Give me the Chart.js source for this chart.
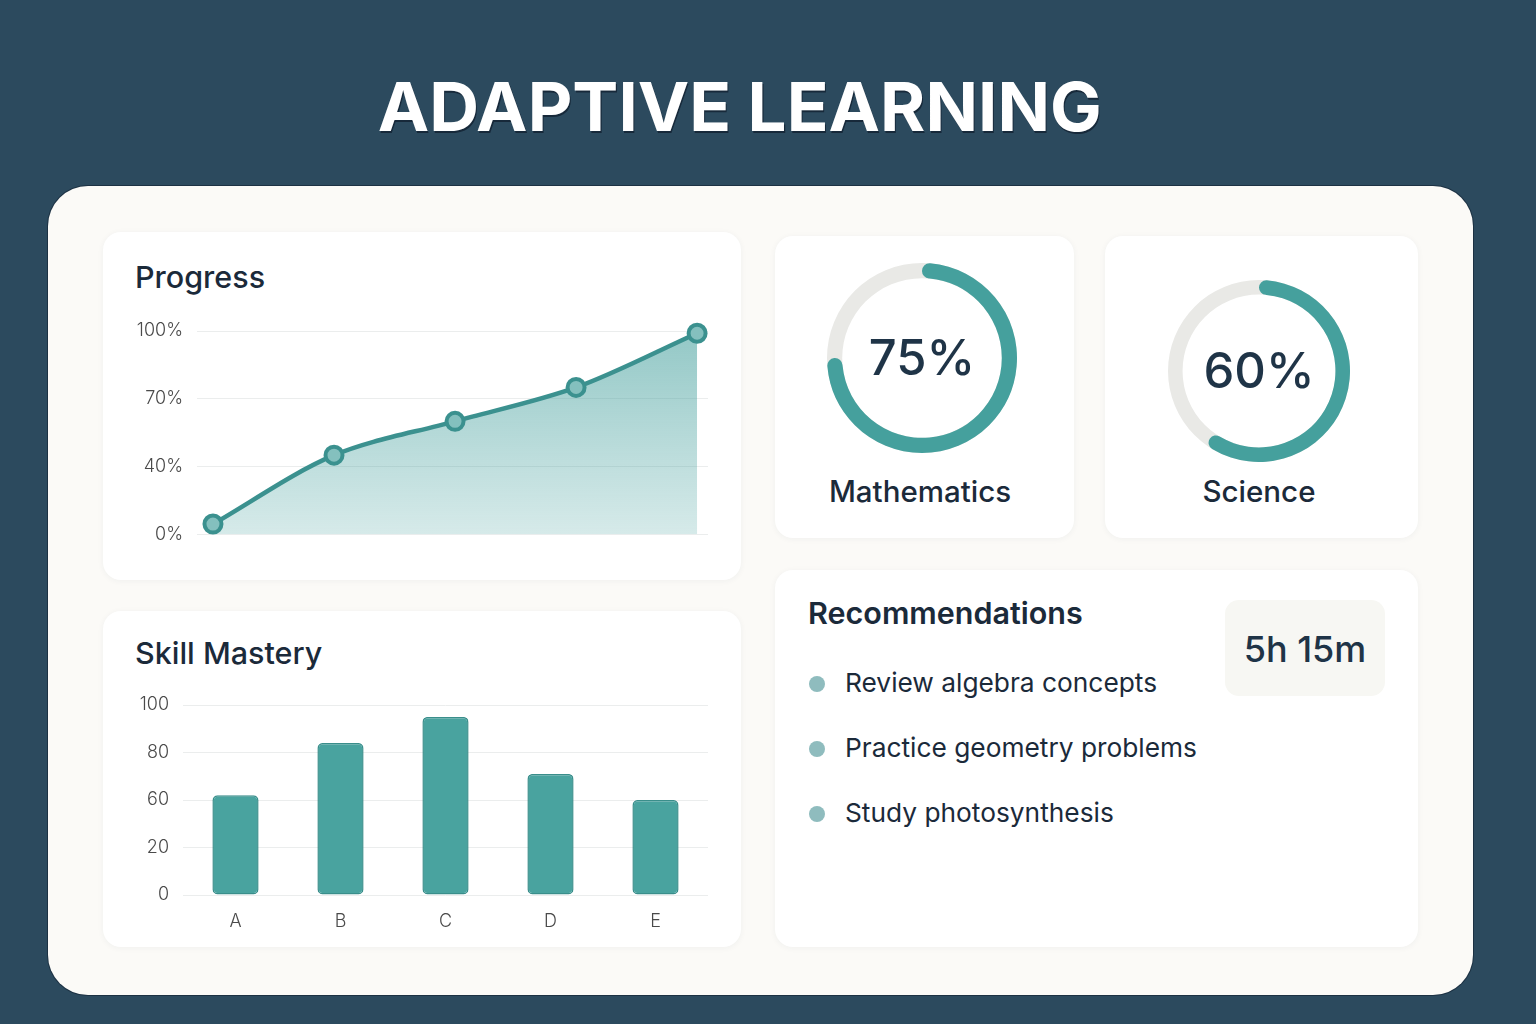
<!DOCTYPE html>
<html>
<head>
<meta charset="utf-8">
<script src="https://cdn.jsdelivr.net/npm/chart.js@4.4.1/dist/chart.umd.min.js"></script>
<style>
  html, body { margin:0; padding:0; }
  body { width:1536px; height:1024px; background:#2c4a5e; position:relative; overflow:hidden; font-family:Inter, "Noto Sans", sans-serif; color:#1d2d3c; }
  #title { position:absolute; left:0; width:1480px; top:65px; text-align:center; font-size:68px; font-weight:700; color:#ffffff; letter-spacing:0px; text-shadow:1px 2px 0 #17293a; white-space:nowrap; }
  #title span { display:inline-block; transform-origin:center; transform:scaleX(1.015); }
  #card { position:absolute; left:48px; top:186px; width:1425px; height:809px; border-radius:40px; background:#fbfaf7; box-shadow:0 0 0 1px #1c3143; }
  .panel { position:absolute; background:#ffffff; border-radius:18px; box-shadow:0 1px 6px rgba(40,60,70,0.05); }
  .ptitle { position:absolute; font-size:30.5px; font-weight:500; color:#1b2a3a; white-space:nowrap; }
  canvas { position:absolute; }
  .center { position:absolute; text-align:center; font-weight:500; color:#1f3447; white-space:nowrap; }
  .subj { position:absolute; text-align:center; font-size:29.5px; font-weight:500; color:#1b2a3a; white-space:nowrap; }
  .rec { position:absolute; left:845px; font-size:26.3px; font-weight:400; color:#1b2a3a; white-space:nowrap; }
  .dot { position:absolute; left:809px; width:16px; height:16px; border-radius:50%; background:#8fbcbe; }
  #timebox { position:absolute; left:1225px; top:600px; width:160px; height:96px; border-radius:14px; background:#f7f7f3; }
  #time { position:absolute; left:1225px; width:160px; top:627px; text-align:center; font-size:36px; font-weight:500; color:#1f3447; white-space:nowrap; }
</style>
</head>
<body>
<div id="title"><span id="titleText">ADAPTIVE LEARNING</span></div>
<div id="card"></div>

<div class="panel" style="left:103px; top:232px; width:638px; height:348px;"></div>
<div class="panel" style="left:103px; top:611px; width:638px; height:336px;"></div>
<div class="panel" style="left:775px; top:236px; width:299px; height:302px;"></div>
<div class="panel" style="left:1105px; top:236px; width:313px; height:302px;"></div>
<div class="panel" style="left:775px; top:570px; width:643px; height:377px;"></div>

<div class="ptitle" style="left:135px; top:258px;">Progress</div>
<div class="ptitle" style="left:135px; top:634px;">Skill Mastery</div>
<div class="ptitle" style="left:808px; top:594px; font-weight:600;">Recommendations</div>

<canvas id="progressChart" width="600" height="259" style="left:120px; top:300px; width:600px; height:259px;"></canvas>
<canvas id="skillChart" width="600" height="255" style="left:120px; top:680px; width:600px; height:255px;"></canvas>
<canvas id="mathChart" width="190" height="190" style="left:827px; top:263px; width:190px; height:190px;"></canvas>
<canvas id="sciChart" width="182" height="182" style="left:1168px; top:280px; width:182px; height:182px;"></canvas>

<div id="mathPct" class="center" style="left:822px; width:200px; top:328px; font-size:49px;"></div>
<div id="sciPct" class="center" style="left:1159px; width:200px; top:341px; font-size:49px;"></div>
<div id="mathName" class="subj" style="left:770px; width:300px; top:473px;"></div>
<div id="sciName" class="subj" style="left:1109px; width:300px; top:473px;"></div>

<div id="recs"></div>
<div id="timebox"></div>
<div id="time"></div>

<script>
// ---------- DATA ----------
const progressSessions = [1, 2, 3, 4, 5];
const progressValues = [6, 45, 60, 75, 99];
const progressTicks = [0, 40, 70, 100];

const skillCategories = ['A', 'B', 'C', 'D', 'E'];
const skillValues = [62, 84, 95, 71, 60];
const skillTicks = [0, 20, 60, 80, 100];

const subjectNames = ['Mathematics', 'Science'];
const subjectScores = [75, 60];

const recommendations = ['Review algebra concepts', 'Practice geometry problems', 'Study photosynthesis'];
const studyTime = '5h 15m';

// ---------- helpers ----------
const TEAL = '#45a09d';
const TEAL_DARK = '#3b918f';

// axes in the reference are evenly spaced between uneven tick values:
// map a value onto that piecewise axis (tick index space)
function toTickSpace(v, ticks) {
  for (let i = 0; i < ticks.length - 1; i++) {
    if (v <= ticks[i + 1]) return i + (v - ticks[i]) / (ticks[i + 1] - ticks[i]);
  }
  return ticks.length - 1;
}

Chart.defaults.font.family = 'Inter, "Noto Sans", sans-serif';
Chart.defaults.animation = false;
Chart.defaults.plugins.legend.display = false;
Chart.defaults.plugins.tooltip.enabled = false;

// text
document.getElementById('mathPct').textContent = subjectScores[0] + '%';
document.getElementById('sciPct').textContent = subjectScores[1] + '%';
document.getElementById('mathName').textContent = subjectNames[0];
document.getElementById('sciName').textContent = subjectNames[1];
document.getElementById('time').textContent = studyTime;
const recBox = document.getElementById('recs');
const recTops = [684, 749, 814];
recommendations.forEach((r, i) => {
  const d = document.createElement('div'); d.className = 'dot'; d.style.top = (recTops[i] - 8) + 'px'; recBox.appendChild(d);
  const t = document.createElement('div'); t.className = 'rec'; t.textContent = r; t.style.top = (recTops[i] - 17) + 'px'; recBox.appendChild(t);
});

// ---------- Progress line ----------
new Chart(document.getElementById('progressChart'), {
  type: 'line',
  data: {
    datasets: [{
      data: progressSessions.map((s, i) => ({ x: s, y: toTickSpace(progressValues[i], progressTicks) })),
      borderColor: TEAL_DARK,
      borderWidth: 4.5,
      tension: 0.32,
      fill: 'origin',
      clip: false,
      backgroundColor: (ctx) => {
        const ca = ctx.chart.chartArea;
        if (!ca) return 'rgba(69,160,157,0.35)';
        const g = ctx.chart.ctx.createLinearGradient(0, ca.top, 0, ca.bottom);
        g.addColorStop(0, 'rgba(69,160,157,0.58)');
        g.addColorStop(1, 'rgba(69,160,157,0.22)');
        return g;
      },
      pointRadius: 8.5,
      pointBorderWidth: 4,
      pointBackgroundColor: '#84c0be',
      pointBorderColor: TEAL_DARK
    }]
  },
  options: {
    responsive: false,
    layout: { autoPadding: false, padding: { top: 31, right: 12, bottom: 0, left: 0 } },
    scales: {
      x: {
        type: 'linear', min: 0.868, max: 5.09,
        afterFit: (s) => { s.height = 15; },
        border: { display: false },
        grid: { display: false },
        ticks: { display: false }
      },
      y: {
        type: 'linear', min: 0, max: progressTicks.length - 1,
        afterFit: (s) => { s.width = 77; },
        border: { display: false },
        grid: { color: '#ebeded', lineWidth: 1, drawTicks: false },
        ticks: { stepSize: 1, padding: 14, color: '#4a4a4a', font: { size: 18, weight: 300 },
                 callback: (v) => progressTicks[v] !== undefined ? progressTicks[v] + '%' : '' }
      }
    }
  }
});

// ---------- Skill mastery bars ----------
new Chart(document.getElementById('skillChart'), {
  type: 'bar',
  data: {
    labels: skillCategories,
    datasets: [{
      data: skillValues.map(v => toTickSpace(v, skillTicks)),
      backgroundColor: '#49a39f',
      borderColor: '#3a8e8b',
      borderWidth: 1.5,
      borderRadius: 5,
      borderSkipped: false,
      barPercentage: 0.44,
      categoryPercentage: 1
    }]
  },
  options: {
    responsive: false,
    layout: { autoPadding: false, padding: { top: 25, right: 12, bottom: 0, left: 0 } },
    scales: {
      x: {
        afterFit: (s) => { s.height = 40; },
        border: { display: false },
        grid: { display: false },
        ticks: { padding: 8, color: '#4a4a4a', font: { size: 18, weight: 300 } }
      },
      y: {
        min: 0, max: skillTicks.length - 1,
        afterFit: (s) => { s.width = 63; },
        border: { display: false },
        grid: { color: '#ebeded', lineWidth: 1, drawTicks: false },
        ticks: { stepSize: 1, padding: 14, color: '#4a4a4a', font: { size: 18, weight: 300 },
                 callback: (v) => skillTicks[v] !== undefined ? String(skillTicks[v]) : '' }
      }
    }
  }
});

// ---------- Subject rings ----------
const trackPlugin = {
  id: 'track',
  beforeDatasetsDraw(chart) {
    const arc = chart.getDatasetMeta(0).data[0];
    if (!arc) return;
    const { x, y, innerRadius, outerRadius } = arc.getProps(['x', 'y', 'innerRadius', 'outerRadius'], true);
    const c = chart.ctx;
    c.save();
    c.beginPath();
    c.arc(x, y, outerRadius, 0, Math.PI * 2);
    c.arc(x, y, innerRadius, Math.PI * 2, 0, true);
    c.closePath();
    c.fillStyle = '#e9e9e6';
    c.fill('evenodd');
    c.restore();
  }
};

function ring(id, score, cutout, cap) {
  new Chart(document.getElementById(id), {
    type: 'doughnut',
    data: {
      datasets: [{
        data: [score, 100 - score],
        backgroundColor: [TEAL, 'rgba(0,0,0,0)'],
        borderWidth: 0,
        borderRadius: (ctx) => ctx.dataIndex === 0 ? cap : 0
      }]
    },
    options: { responsive: false, cutout: cutout, rotation: 0 },
    plugins: [trackPlugin]
  });
}
ring('mathChart', subjectScores[0], '84%', 8);
ring('sciChart', subjectScores[1], '84%', 8);
</script>
</body>
</html>
